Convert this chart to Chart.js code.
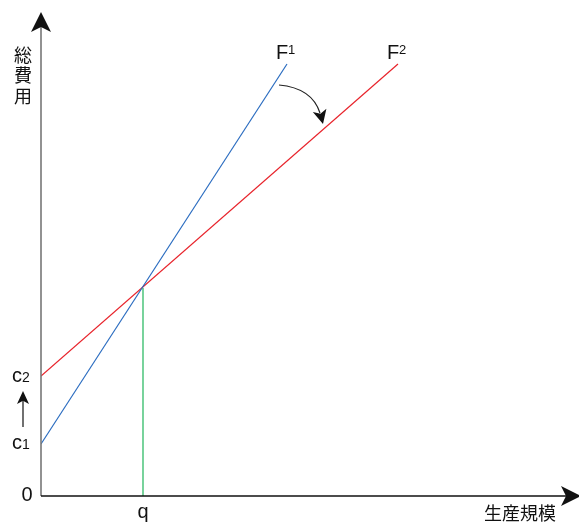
<!DOCTYPE html>
<html lang="ja">
<head>
<meta charset="UTF-8">
<title>総費用と生産規模</title>
<script src="https://cdn.jsdelivr.net/npm/chart.js"></script>
<style>
  html, body { margin: 0; padding: 0; background: #fff; }
  #wrap { width: 579px; height: 523px; }
</style>
</head>
<body>
<div id="wrap"><canvas id="myChart" width="579" height="523"></canvas></div>
<script>
// datos (unidades arbitrarias)
const xMax = 53.7;
const yMax = 48.3;
const q = 10.2;
const c1 = 5.2;
const c2 = 12.0;
const lineF1 = [{ x: 0, y: c1 }, { x: 24.6, y: 43.2 }];
const lineF2 = [{ x: 0, y: c2 }, { x: 35.7, y: 43.2 }];
const lineQ = [{ x: q, y: 0 }, { x: q, y: 20.8 }];
const yAxisTitle = ['総', '費', '用'];
const xAxisTitle = '生産規模';

function arrowHead(ctx, x, y, angle, len, half) {
  ctx.save();
  ctx.translate(x, y);
  ctx.rotate(angle);
  ctx.beginPath();
  ctx.moveTo(0, 0);
  ctx.lineTo(-len, -half);
  ctx.lineTo(-len * 0.75, 0);
  ctx.lineTo(-len, half);
  ctx.closePath();
  ctx.fill();
  ctx.restore();
}

const decoraciones = {
  id: 'decoraciones',
  afterDraw(chart) {
    const ctx = chart.ctx;
    const xs = chart.scales.x, ys = chart.scales.y;
    const x0 = xs.getPixelForValue(0), y0 = ys.getPixelForValue(0);
    ctx.save();
    // eje Y
    ctx.strokeStyle = '#777';
    ctx.fillStyle = '#111';
    ctx.lineWidth = 1.6;
    ctx.beginPath();
    ctx.moveTo(x0, y0);
    ctx.lineTo(x0, 26);
    ctx.stroke();
    arrowHead(ctx, x0, 12, -Math.PI / 2, 20, 10);
    // eje X
    ctx.strokeStyle = '#111';
    ctx.beginPath();
    ctx.moveTo(x0, y0);
    ctx.lineTo(566, y0);
    ctx.stroke();
    arrowHead(ctx, 581, y0, 0, 20, 10);

    ctx.font = '18px "Noto Sans CJK JP"';
    ctx.textAlign = 'center';
    ctx.textBaseline = 'middle';
    yAxisTitle.forEach((ch, i) => ctx.fillText(ch, 23, 55 + i * 20.5));
    ctx.fillText(xAxisTitle, 520, 513);

    ctx.font = '20px "Liberation Sans"';
    ctx.fillText('0', 27, y0 - 1);
    ctx.textBaseline = 'alphabetic';
    ctx.fillText('q', xs.getPixelForValue(q), 518);

    // c1, c2
    const cLabel = (txt, sub, y) => {
      ctx.textAlign = 'left';
      ctx.font = '20px "Liberation Sans"';
      ctx.fillText(txt, 12, y);
      ctx.font = '14px "Liberation Sans"';
      ctx.fillText(sub, 22, y);
    };
    cLabel('c', '1', ys.getPixelForValue(c1) + 5);
    cLabel('c', '2', ys.getPixelForValue(c2) + 6);

    // flecha c1 -> c2
    ctx.lineWidth = 1.2;
    ctx.beginPath();
    ctx.moveTo(23, 427);
    ctx.lineTo(23, 400);
    ctx.stroke();
    arrowHead(ctx, 23, 391, -Math.PI / 2, 13, 6);

    // F1, F2
    const fLabel = (sub, x) => {
      ctx.textAlign = 'left';
      ctx.font = '20px "Liberation Sans"';
      ctx.fillText('F', x, 59);
      ctx.font = '13px "Liberation Sans"';
      ctx.fillText(sub, x + 12, 54);
    };
    fLabel('1', 276);
    fLabel('2', 387);

    // flecha curva
    ctx.strokeStyle = '#222';
    ctx.fillStyle = '#111';
    ctx.lineWidth = 1.2;
    ctx.beginPath();
    ctx.moveTo(279, 85);
    ctx.quadraticCurveTo(312, 88, 320, 113);
    ctx.stroke();
    arrowHead(ctx, 323, 124, Math.atan2(12, 3), 14, 7);
    ctx.restore();
  }
};

const ctx = document.getElementById('myChart').getContext('2d');
new Chart(ctx, {
  type: 'scatter',
  data: {
    datasets: [
      { label: 'F1', data: lineF1, showLine: true, borderColor: '#2a6cc0', borderWidth: 1.2, pointRadius: 0 },
      { label: 'F2', data: lineF2, showLine: true, borderColor: '#e8242c', borderWidth: 1.2, pointRadius: 0 },
      { label: 'q', data: lineQ, showLine: true, borderColor: '#1fb55a', borderWidth: 1.2, pointRadius: 0 }
    ]
  },
  options: {
    responsive: false,
    animation: false,
    layout: { padding: { left: 41, top: 13, right: 1, bottom: 27 } },
    plugins: { legend: { display: false }, tooltip: { enabled: false } },
    scales: {
      x: { type: 'linear', min: 0, max: xMax, display: false },
      y: { type: 'linear', min: 0, max: yMax, display: false }
    }
  },
  plugins: [decoraciones]
});
</script>
</body>
</html>
